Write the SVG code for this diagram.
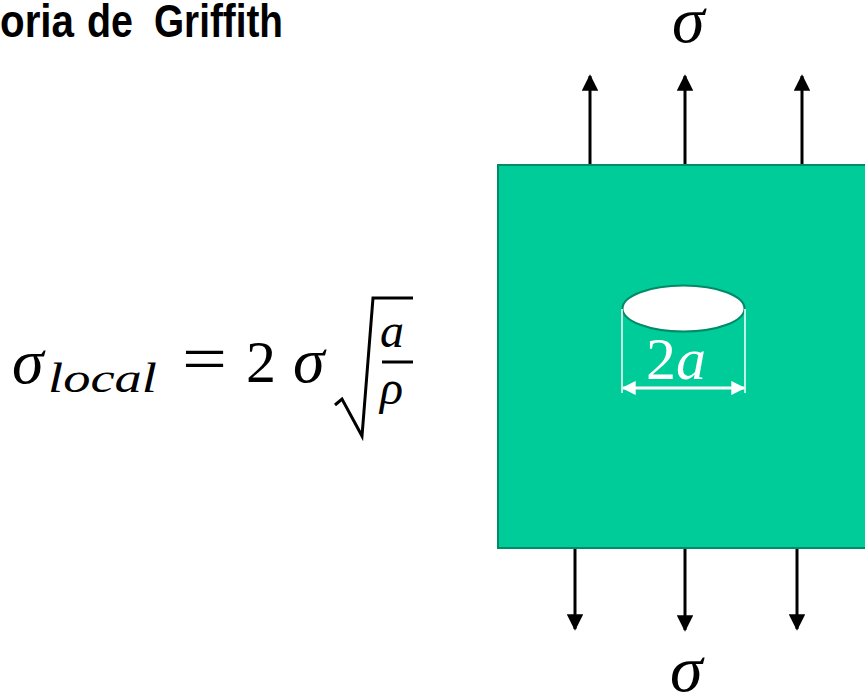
<svg xmlns="http://www.w3.org/2000/svg" width="865" height="694" viewBox="0 0 865 694">
<style>
.math{font-family:"Liberation Serif","DejaVu Serif",serif;font-style:italic;fill:#000}
.up{font-family:"Liberation Serif","DejaVu Serif",serif;fill:#000}
.ttl{font-family:"Liberation Sans",Arial,sans-serif;font-weight:bold;font-size:47px;fill:#000}
.arr{stroke:#000;stroke-width:3;fill:none}
</style>
<defs>
<marker id="ah" viewBox="0 0 10 10" refX="9" refY="5" markerWidth="5.5" markerHeight="5.5" markerUnits="strokeWidth" orient="auto"><path d="M0,0 L10,5 L0,10 z" fill="#000"/></marker>
<marker id="wh" viewBox="0 0 10 10" refX="9" refY="5" markerWidth="5" markerHeight="4.7" markerUnits="strokeWidth" orient="auto-start-reverse"><path d="M0,0 L10,5 L0,10 z" fill="#fff"/></marker>
</defs>
<rect width="865" height="694" fill="#fff"/>
<g id="title">
<text class="ttl" x="0" y="37" textLength="74" lengthAdjust="spacingAndGlyphs">oria</text>
<text class="ttl" x="87" y="37" textLength="46" lengthAdjust="spacingAndGlyphs">de</text>
<text class="ttl" x="154" y="37" textLength="129" lengthAdjust="spacingAndGlyphs">Griffith</text>
</g>
<g id="formula">
<text class="math" x="12" y="383" font-size="64">σ</text>
<text class="math" x="48" y="392" font-size="42" textLength="109" lengthAdjust="spacingAndGlyphs">local</text>
<text class="up" x="182" y="381" font-size="66" textLength="45" lengthAdjust="spacingAndGlyphs">=</text>
<text class="up" x="246" y="382" font-size="60">2</text>
<text class="math" x="293" y="382" font-size="64">σ</text>
<path d="M335,405 L342,399 L362,436 L373,298 L413,298" stroke="#000" stroke-width="3" fill="none" stroke-linejoin="miter"/>
<text class="math" x="380" y="347" font-size="48">a</text>
<line x1="382" y1="362" x2="413" y2="362" stroke="#000" stroke-width="3"/>
<text class="math" x="380" y="404" font-size="48">ρ</text>
</g>
<g id="plate">
<rect x="498" y="165" width="370" height="383" fill="#00CC99" stroke="#008A66" stroke-width="2"/>
<ellipse cx="683.5" cy="308.5" rx="61" ry="23" fill="#fff" stroke="#008A66" stroke-width="2"/>
<line x1="622" y1="309" x2="622" y2="393" stroke="#fff" stroke-width="1.5"/>
<line x1="745" y1="309" x2="745" y2="393" stroke="#fff" stroke-width="1.5"/>
<line x1="623" y1="388" x2="744" y2="388" stroke="#fff" stroke-width="3" marker-start="url(#wh)" marker-end="url(#wh)"/>
<text x="646" y="379" font-family="Liberation Serif,DejaVu Serif,serif" font-size="60" fill="#fff">2<tspan font-style="italic">a</tspan></text>
</g>
<g id="connectors">
<line class="arr" x1="590" y1="164" x2="590" y2="76" marker-end="url(#ah)"/>
<line class="arr" x1="685" y1="164" x2="685" y2="76" marker-end="url(#ah)"/>
<line class="arr" x1="802" y1="164" x2="802" y2="76" marker-end="url(#ah)"/>
<line class="arr" x1="575" y1="549" x2="575" y2="629" marker-end="url(#ah)"/>
<line class="arr" x1="685" y1="549" x2="685" y2="630" marker-end="url(#ah)"/>
<line class="arr" x1="797" y1="549" x2="797" y2="629" marker-end="url(#ah)"/>
</g>
<text id="sigma-top" class="math" x="672" y="42" font-size="66">σ</text>
<text id="sigma-bottom" class="math" x="670" y="691" font-size="66">σ</text>
</svg>
